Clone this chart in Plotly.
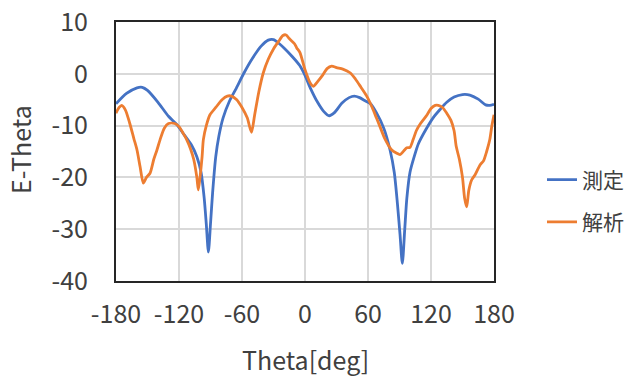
import plotly.graph_objects as go

measured_theta = [-180, -170, -160, -155, -150, -140, -130, -122, -115, -108, -103, -99, -96, -94, -92,
                  -90, -88, -85, -82, -78, -72, -66, -58, -50, -42, -35, -30, -25, -20, -12, -5,
                  0, 5, 12, 18, 23, 28, 35, 42, 47, 52, 58, 62, 68, 75, 81, 85, 88, 90.5, 92.7,
                  95, 97, 100, 104, 108, 115, 122, 128.6, 135, 142, 150, 157, 165, 172, 176, 180]
measured_val = [-5.8, -3.8, -2.7, -2.6, -3.2, -5.5, -8.2, -9.8, -11.8, -13.8, -16, -19, -24, -29, -34.4,
                -29, -23, -16, -12, -8.5, -5.3, -3, 0.2, 3, 5.3, 6.5, 6.6, 5.9, 5.0, 3.3, 1.6,
                -0.3, -2.7, -5.5, -7.3, -8.1, -7.5, -5.7, -4.6, -4.3, -4.6, -5.3, -5.7, -7.5, -10.5, -14.7, -19, -25, -31, -36.6,
                -30, -24, -19, -16, -13.5, -10.8, -8.5, -6.9, -5.5, -4.5, -4.0, -4.1, -4.9, -6.0, -6.1, -5.9]

analysis_theta = [-180, -177, -174.6, -171, -167, -163, -160, -157, -154, -151, -147.6, -144, -141, -138,
                  -134, -130, -124, -120, -116, -112.7, -109, -106, -103, -101.6, -100, -98, -96.8, -94,
                  -90.5, -85, -79, -74, -70, -65, -60, -55, -51, -48, -44, -39.7, -35, -30, -25, -21,
                  -18, -15, -10, -7.9, -4.8, 0, 4.8, 7.9, 12, 17, 21, 25.4, 30, 36, 42.9, 48, 53, 58.8,
                  64, 68, 71.4, 76, 82.6, 87, 90.5, 94, 97, 100, 103, 106, 110, 116, 120, 124, 127, 131,
                  135, 139, 142, 144, 147, 150, 152, 154, 156, 158.7, 162, 166.7, 170, 173, 176, 178, 180]
analysis_val = [-7.6, -6.5, -6.1, -7, -9.5, -12.5, -14.7, -18, -21.1, -20, -19.2, -16.5, -14.7, -12.7,
                -10.5, -9.6, -9.6, -10.2, -11.5, -12.7, -14.5, -16.5, -20, -22.4, -20, -16, -12.7, -10,
                -7.9, -6.5, -5, -4.3, -4.3, -5.0, -6.5, -8.5, -11.3, -8, -3.5, 0.2, 2.8, 4.8, 6.3, 7.4,
                7.5, 6.8, 5.8, 5.0, 4.1, 0.8, -1.7, -2.4, -1.5, -0.2, 1.0, 1.5, 1.2, 0.9, 0.2, -1, -2.5, -4.3,
                -6.5, -8.5, -10.2, -12.5, -14.7, -15.3, -15.6, -14.9, -14.3, -14.2, -12.7, -11, -9.6, -8, -6.7, -6.1, -6.1, -6.5,
                -7.6, -9, -11, -14, -16.5, -20, -24, -25.7, -22.5, -20.5, -19.5, -17.6, -16.8, -15, -12.7, -10, -7.9]

x_ticks = [-180, -120, -60, 0, 60, 120, 180]
y_ticks = [10, 0, -10, -20, -30, -40]
series_names = ["測定", "解析"]

FONT = "Noto Sans CJK JP"
TXT = "#404040"
L, R, T, B = 116, 146, 22, 95
PW, PH = 640 - L - R, 376 - T - B

fig = go.Figure()
fig.add_trace(go.Scatter(x=measured_theta, y=measured_val, name=series_names[0], mode="lines",
                         line=dict(color="#4472C4", width=2.8, shape="spline", smoothing=0.7),
                         legendgroup="a"))
fig.add_trace(go.Scatter(x=analysis_theta, y=analysis_val, name=series_names[1], mode="lines",
                         line=dict(color="#ED7D31", width=2.8, shape="spline", smoothing=0.7),
                         legendgroup="b"))

fig.update_layout(
    width=640, height=376,
    margin=dict(l=L, r=R, t=T, b=B, autoexpand=False),
    paper_bgcolor="white", plot_bgcolor="white",
    font=dict(family=FONT, color=TXT, size=25),
    showlegend=True,
    legend=dict(x=1 + 48 / PW, xanchor="left", y=(281 - 201) / PH, yanchor="middle",
                font=dict(size=21, color=TXT), tracegroupgap=12,
                bgcolor="rgba(0,0,0,0)", itemwidth=30),
    xaxis=dict(range=[-180, 180], tickvals=x_ticks, ticktext=[str(v) for v in x_ticks],
               showgrid=True, gridcolor="#d9d9d9", gridwidth=1.5,
               showline=True, mirror=True, linecolor="#262626", linewidth=2,
               zeroline=False, ticks="", ticklabelstandoff=10, automargin=False,
               tickfont=dict(size=25, color=TXT)),
    yaxis=dict(range=[-40, 10], tickvals=y_ticks, ticktext=[str(v) for v in y_ticks],
               showgrid=True, gridcolor="#d9d9d9", gridwidth=1.5,
               showline=True, mirror=True, linecolor="#262626", linewidth=2,
               zeroline=False, ticks="", ticklabelstandoff=21, automargin=False,
               tickfont=dict(size=25, color=TXT)),
    annotations=[
        dict(text="Theta[deg]", x=(305 - L) / PW, xref="paper", xanchor="center",
             y=-(359 - 281) / PH, yref="paper", yanchor="middle",
             showarrow=False, font=dict(size=25, color=TXT)),
        dict(text="E-Theta", x=-(L - 20) / PW, xref="paper", xanchor="center",
             y=(281 - 150) / PH, yref="paper", yanchor="middle",
             showarrow=False, textangle=-90, font=dict(size=25, color=TXT)),
    ],
)

fig.write_html("out.html")
